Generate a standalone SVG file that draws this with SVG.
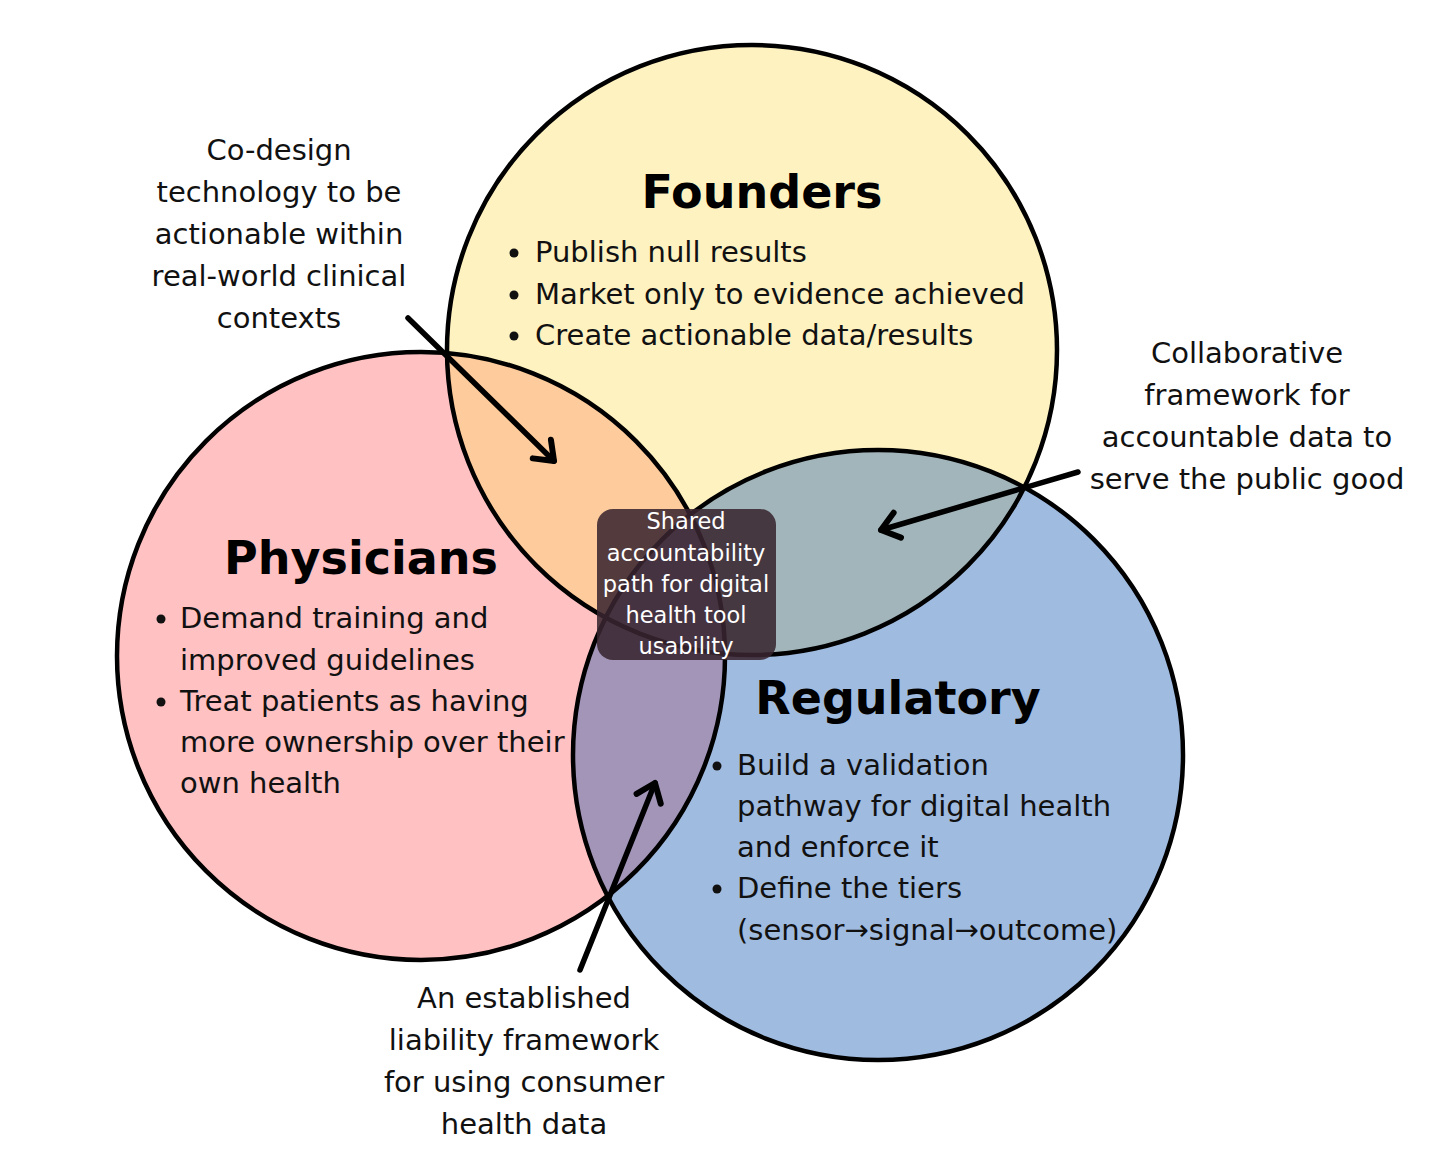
<svg xmlns="http://www.w3.org/2000/svg" width="1456" height="1165" viewBox="0 0 1456 1165">
<style>
.ring{fill:none;stroke:#000;stroke-width:4.5}
.title{font-family:"DejaVu Sans",sans-serif;font-weight:bold;font-size:46px;fill:#000}
.body{font-family:"DejaVu Sans",sans-serif;font-size:29px;fill:#111}
.note{font-family:"DejaVu Sans",sans-serif;font-size:29px;fill:#111;text-anchor:middle}
.box{font-family:"DejaVu Sans",sans-serif;font-size:22.5px;fill:#fff;text-anchor:middle}
.arrow{fill:none;stroke:#000;stroke-width:5.5;stroke-linecap:round}
</style>
<defs>
<clipPath id="cF"><circle cx="752" cy="350" r="305"/></clipPath>
<clipPath id="cP"><circle cx="421" cy="656" r="304"/></clipPath>
<marker id="head" markerUnits="userSpaceOnUse" markerWidth="44" markerHeight="44" viewBox="-22 -22 44 44" refX="0" refY="0" orient="auto">
<path d="M-17,-13 L0,0 L-17,13" fill="none" stroke="#000" stroke-width="6" stroke-linecap="round" stroke-linejoin="round"/>
</marker>
</defs>
<rect width="1456" height="1165" fill="#fff"/>
<g id="fills">
<circle cx="752" cy="350" r="305" fill="#FEF2C1"/>
<circle cx="421" cy="656" r="304" fill="#FFC1C2"/>
<circle cx="878" cy="755" r="305" fill="#A0BBE0"/>
<circle cx="421" cy="656" r="304" fill="#FDCB9C" clip-path="url(#cF)"/>
<circle cx="878" cy="755" r="305" fill="#A2B5BA" clip-path="url(#cF)"/>
<circle cx="878" cy="755" r="305" fill="#A295B8" clip-path="url(#cP)"/>
</g>
<g id="outlines">
<circle class="ring" cx="752" cy="350" r="305"/>
<circle class="ring" cx="421" cy="656" r="304"/>
<circle class="ring" cx="878" cy="755" r="305"/>
</g>
<g id="founders">
<text class="title" x="762" y="208" text-anchor="middle">Founders</text>
<circle cx="514" cy="253" r="4.5" fill="#111"/>
<circle cx="514" cy="295" r="4.5" fill="#111"/>
<circle cx="514" cy="336" r="4.5" fill="#111"/>
<text class="body" x="535" y="262">Publish null results</text>
<text class="body" x="535" y="304">Market only to evidence achieved</text>
<text class="body" x="535" y="345">Create actionable data/results</text>
</g>
<g id="physicians">
<text class="title" x="361" y="574" text-anchor="middle">Physicians</text>
<circle cx="161" cy="619" r="4.5" fill="#111"/>
<circle cx="161" cy="702" r="4.5" fill="#111"/>
<text class="body" x="180" y="628">Demand training and</text>
<text class="body" x="180" y="670">improved guidelines</text>
<text class="body" x="180" y="711">Treat patients as having</text>
<text class="body" x="180" y="752">more ownership over their</text>
<text class="body" x="180" y="793">own health</text>
</g>
<g id="regulatory">
<text class="title" x="898" y="714" text-anchor="middle">Regulatory</text>
<circle cx="717" cy="766" r="4.5" fill="#111"/>
<circle cx="717" cy="889" r="4.5" fill="#111"/>
<text class="body" x="737" y="775">Build a validation</text>
<text class="body" x="737" y="816">pathway for digital health</text>
<text class="body" x="737" y="857">and enforce it</text>
<text class="body" x="737" y="898">Define the tiers</text>
<text class="body" x="737" y="940">(sensor→signal→outcome)</text>
</g>
<g id="connectors">
<line class="arrow" x1="408" y1="318" x2="554" y2="461" marker-end="url(#head)"/>
<line class="arrow" x1="1078" y1="472" x2="881" y2="530" marker-end="url(#head)"/>
<line class="arrow" x1="580" y1="970" x2="655" y2="783" marker-end="url(#head)"/>
</g>
<g id="note-codesign">
<text class="note" x="279" y="160">Co-design</text>
<text class="note" x="279" y="202">technology to be</text>
<text class="note" x="279" y="244">actionable within</text>
<text class="note" x="279" y="286">real-world clinical</text>
<text class="note" x="279" y="328">contexts</text>
</g>
<g id="note-collab">
<text class="note" x="1247" y="363">Collaborative</text>
<text class="note" x="1247" y="405">framework for</text>
<text class="note" x="1247" y="447">accountable data to</text>
<text class="note" x="1247" y="489">serve the public good</text>
</g>
<g id="note-liability">
<text class="note" x="524" y="1008">An established</text>
<text class="note" x="524" y="1050">liability framework</text>
<text class="note" x="524" y="1092">for using consumer</text>
<text class="note" x="524" y="1134">health data</text>
</g>
<g id="shared">
<rect x="597" y="509" width="179" height="151" rx="16" fill="#38252F" fill-opacity="0.87"/>
<text class="box" x="686" y="529">Shared</text>
<text class="box" x="686" y="561">accountability</text>
<text class="box" x="686" y="592">path for digital</text>
<text class="box" x="686" y="623">health tool</text>
<text class="box" x="686" y="654">usability</text>
</g>
</svg>
